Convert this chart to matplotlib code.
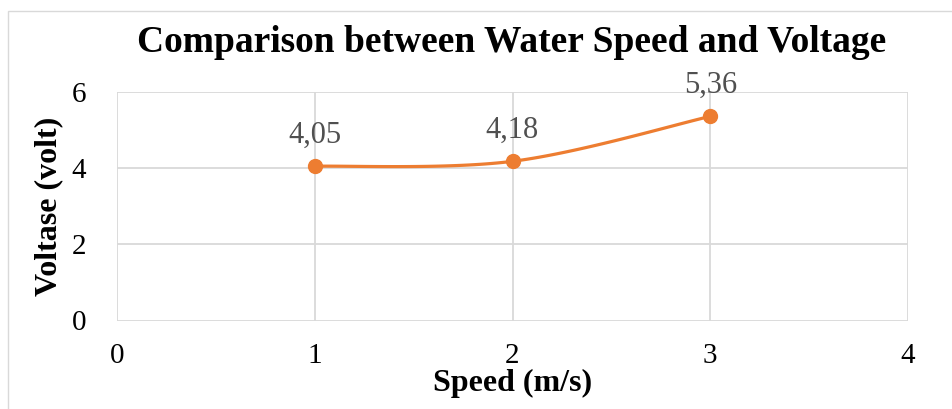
import matplotlib.pyplot as plt
import matplotlib.patches as mpatches
import numpy as np

plt.rcParams['font.family'] = ['Liberation Serif', 'DejaVu Serif']

speed = [1, 2, 3]
voltage = [4.05, 4.18, 5.36]
labels = ['4,05', '4,18', '5,36']
x_ticks = [0, 1, 2, 3, 4]
y_ticks = [0, 2, 4, 6]

orange = '#ED7D31'
grid_gray = '#D9D9D9'
text_gray = '#505050'


def smooth_line(xs, ys, steps=40):
    # Catmull-Rom style smoothing like Excel's "smoothed line"
    px = [xs[0]] + list(xs) + [xs[-1]]
    py = [ys[0]] + list(ys) + [ys[-1]]
    out_x, out_y = [], []
    for i in range(1, len(px) - 2):
        t = np.linspace(0, 1, steps)
        for p, out in ((px, out_x), (py, out_y)):
            p0, p1, p2, p3 = p[i - 1], p[i], p[i + 1], p[i + 2]
            b1 = p1 + (p2 - p0) / 6
            b2 = p2 - (p3 - p1) / 6
            out.extend((1 - t) ** 3 * p1 + 3 * (1 - t) ** 2 * t * b1
                       + 3 * (1 - t) * t ** 2 * b2 + t ** 3 * p2)
    return out_x, out_y


fig = plt.figure(figsize=(9.52, 4.09), dpi=100)
ax = fig.add_axes([117 / 952, 1 - 320.5 / 409, 791 / 952, 228.5 / 409])

# outer chart border (cropped on right and bottom)
fig.patches.append(mpatches.Rectangle((8 / 952, -0.1), 1.1, 1 - 11 / 409 + 0.1,
                                      transform=fig.transFigure, fill=False,
                                      edgecolor='#D9D9D9', linewidth=1.0))

ax.set_xlim(0, 4)
ax.set_ylim(0, 6)
ax.set_xticks(x_ticks)
ax.set_yticks(y_ticks)
ax.grid(True, color=grid_gray, linewidth=1.3)
ax.set_axisbelow(True)
for s in ax.spines.values():
    s.set_visible(False)
ax.tick_params(length=0, labelsize=21, labelcolor='black')
ax.tick_params(axis='y', pad=22)
ax.tick_params(axis='x', pad=16)

sx, sy = smooth_line(speed, voltage)
ax.plot(sx, sy, color=orange, linewidth=2.3, solid_capstyle='round', clip_on=False)
ax.plot(speed, voltage, 'o', color=orange, markersize=10, clip_on=False)

for x, y, lab in zip(speed, voltage, labels):
    ax.annotate(lab, (x, y), xytext=(0, 12), textcoords='offset points',
                ha='center', va='bottom', fontsize=22, color=text_gray)

fig.text(512 / 952, 1 - 52 / 409, 'Comparison between Water Speed and Voltage',
         fontsize=27, fontweight='bold', ha='center', va='baseline')
ax.set_xlabel('Speed (m/s)', fontsize=23, fontweight='bold', labelpad=0)
ax.set_ylabel('Voltase (volt)', fontsize=23, fontweight='bold', labelpad=6)

fig.savefig('out.png', dpi=100)
